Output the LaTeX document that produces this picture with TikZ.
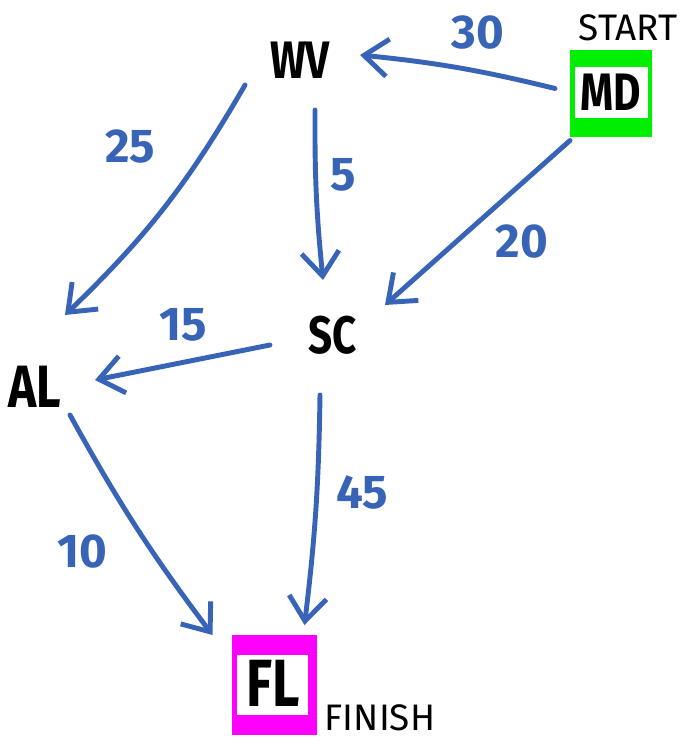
\documentclass[tikz,border=0pt]{standalone}
\usepackage{fontspec}
\setmainfont{Fira Sans}
\usetikzlibrary{arrows.meta}
\definecolor{routeblue}{HTML}{3864B8}
\definecolor{startgreen}{HTML}{00EE00}
\definecolor{finishpink}{HTML}{FF00FF}
\newcommand{\citytext}[1]{\scalebox{0.8}[1]{#1}}

\tikzset{
  city/.style={font=\fontsize{30}{32}\selectfont\bfseries, inner sep=0pt},
  cost/.style={font=\fontsize{27}{29}\selectfont\bfseries, text=routeblue, inner sep=0pt},
  tag/.style={font=\fontsize{21}{23}\selectfont, inner sep=0pt},
  route/.style={routeblue, line width=2.8pt, line cap=round,
    -{Straight Barb[length=4.8mm,width=7.5mm,line width=2.8pt]}}
}

\begin{document}
\begin{tikzpicture}[x=0.02cm, y=-0.02cm]
\useasboundingbox (0,0) rectangle (688,750);

% Start and finish boxes
\node[fill=startgreen, minimum width=1.64cm, minimum height=1.74cm] (MDbox) at (611,93.5) {};
\node[fill=white, minimum width=1.46cm, minimum height=1.02cm] (MDin) at (611.5,92.5) {};
\node[fill=finishpink, minimum width=1.7cm, minimum height=2cm] (FLbox) at (274.5,685) {};
\node[fill=white, minimum width=1.42cm, minimum height=1.2cm] (FLin) at (272.5,685) {};

% Cities
\node[city] (WV) at (300,60) {\citytext{WV}};
\node[city] (MD) at (611,92) {\citytext{MD}};
\node[city] (SC) at (333,335) {\citytext{SC}};
\node[city, font=\fontsize{34}{36}\selectfont\bfseries] (AL) at (35,387) {\citytext{AL}};
\node[city, font=\fontsize{38}{40}\selectfont\bfseries] (FL) at (273,683) {\citytext{FL}};

\node[tag] (start) at (628,28) {START};
\node[tag] (finish) at (380,718) {FINISH};

% Routes
\draw[route] ([shift={(-56,-5)}]MDbox.center) to[bend right=4] ([shift={(60,-5)}]WV.center);
\draw[route] ([shift={(-55,25)}]WV.center) to[bend left=8] ([shift={(30,-72)}]AL.center);
\draw[route] ([shift={(15,50)}]WV.center) to[bend right=3] ([shift={(-10,-55)}]SC.center);
\draw[route] ([shift={(-41,47)}]MDbox.center) to ([shift={(52,-30)}]SC.center);
\draw[route] ([shift={(-63,10)}]SC.center) to ([shift={(60,-7)}]AL.center);
\draw[route] ([shift={(35,28)}]AL.center) to[bend right=4] ([shift={(-62,-50)}]FLbox.center);
\draw[route] ([shift={(-13,60)}]SC.center) to[bend left=3] ([shift={(30,-60)}]FLbox.center);

% Costs
\node[cost] (c30) at (478,33) {30};
\node[cost] (c25) at (130,147) {25};
\node[cost] (c5) at (343,175) {5};
\node[cost] (c20) at (522,242) {20};
\node[cost] (c15) at (183,325) {15};
\node[cost] (c10) at (82,552) {10};
\node[cost] (c45) at (362,492) {45};
\end{tikzpicture}
\end{document}
